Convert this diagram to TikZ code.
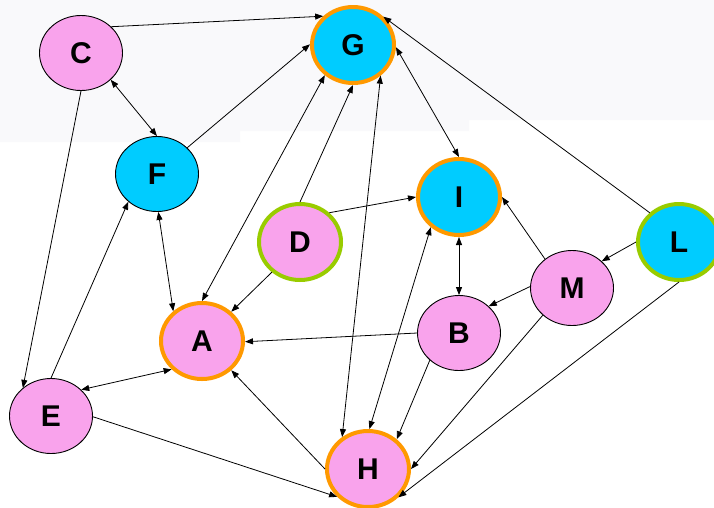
\documentclass[tikz,border=0pt]{standalone}
\usepackage{fontspec}
\setmainfont{Liberation Sans}
\usetikzlibrary{shapes.geometric,arrows.meta}
\definecolor{pinkn}{RGB}{249,163,236}
\definecolor{cyann}{RGB}{0,204,255}
\definecolor{orangeb}{RGB}{255,153,0}
\definecolor{greenb}{RGB}{153,204,0}
\definecolor{bgtop}{RGB}{249,249,251}
\tikzset{
  nd/.style={ellipse,inner sep=0pt,draw=black,line width=0.9pt,
    minimum width=83pt,minimum height=75pt,
    font=\fontsize{30}{36}\selectfont\bfseries},
  thick ring/.style={line width=4pt,minimum width=82pt,minimum height=76pt},
  pk/.style={nd,fill=pinkn},
  cy/.style={nd,fill=cyann},
  orng/.style={thick ring,draw=orangeb},
  grn/.style={thick ring,draw=greenb},
  edge/.style={line width=0.8pt,-{Triangle[length=8pt,width=6pt]}},
  bedge/.style={line width=0.8pt,{Triangle[length=8pt,width=6pt]}-{Triangle[length=8pt,width=6pt]}}
}
\begin{document}
\begin{tikzpicture}[x=1pt,y=-1pt]
\useasboundingbox (0,0) rectangle (714,507);
\fill[white] (0,0) rectangle (714,507);
\fill[bgtop] (0,0) -- (714,0) -- (714,120) -- (469,120) -- (469,131) -- (240,131) -- (240,142) -- (0,142) -- cycle;

\node[pk] (C) at (81,53) {C};
\node[cy,orng] (G) at (353,45) {G};
\node[cy] (F) at (157,174) {F};
\node[cy,orng] (I) at (459,197) {I};
\node[pk,grn] (D) at (300,242) {D};
\node[cy,grn] (L) at (679,242) {L};
\node[pk] (M) at (572,288) {M};
\node[pk] (B) at (459,333) {B};
\node[pk,orng] (A) at (202,341) {A};
\node[pk] (E) at (51,416) {E};
\node[pk,orng] (H) at (368,469) {H};

\draw[edge] (C.41) -- (G.136);
\draw[bedge] (C.-42) -- (F.90);
\draw[edge] (C.-90) -- (E.135);
\draw[edge] (F.41) -- (G.179);
\draw[edge] (D.90) -- (G.-90);
\draw[bedge] (G.-133) -- (A.90);
\draw[bedge] (F.-88) -- (A.134);
\draw[edge] (E.90) -- (F.-136);
\draw[bedge] (E.41) -- (A.-137);
\draw[edge] (E.-1) -- (H.-138);
\draw[edge] (D.-133) -- (A.45);
\draw[edge] (D.45) -- (I.180);
\draw[bedge] (G.-3) -- (I.90);
\draw[edge] (L.135) -- (G.43);
\draw[edge] (L.180) -- (M.42);
\draw[edge] (L.-90) -- (H.-43);
\draw[edge] (M.133) -- (I.0);
\draw[edge] (M.178) -- (B.42);
\draw[edge] (M.-137) -- (H.0);
\draw[bedge] (I.-90) -- (B.90);
\draw[bedge] (I.-133) -- (H.88);
\draw[edge] (B.180) -- (A.-1);
\draw[edge] (B.-137) -- (H.46);
\draw[edge] (H.180) -- (A.-45);
\draw[bedge] (G.-48) -- (H.129);
\end{tikzpicture}
\end{document}
